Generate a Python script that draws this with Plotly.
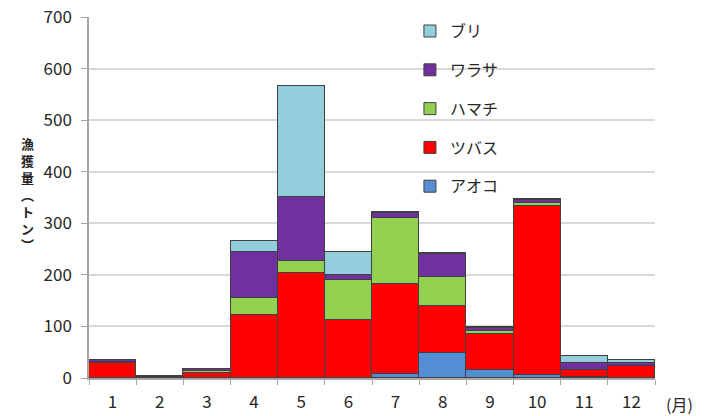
import plotly.graph_objects as go

months = ["1", "2", "3", "4", "5", "6", "7", "8", "9", "10", "11", "12"]
aoko = [0, 0, 0, 0, 0, 0, 7, 48, 15, 6, 1, 0]
tsubasu = [30, 2, 10, 123, 203, 112, 176, 91, 70, 327, 14, 23]
hamachi = [1, 1, 4, 32, 23, 79, 127, 57, 7, 7, 1, 1]
warasa = [3, 1, 3, 89, 125, 9, 9, 44, 4, 5, 14, 5]
buri = [1, 0, 1, 22, 216, 44, 2, 2, 3, 3, 13, 6]
y_ticks = [0, 100, 200, 300, 400, 500, 600, 700]

series = [
    ("アオコ", aoko, "#558ED5", 5),
    ("ツバス", tsubasu, "#FF0000", 4),
    ("ハマチ", hamachi, "#92D050", 3),
    ("ワラサ", warasa, "#7030A0", 2),
    ("ブリ", buri, "#92CDDC", 1),
]

FONT = "Noto Sans CJK JP"
TXT = "#262626"
fig = go.Figure()
for name, vals, color, rank in series:
    fig.add_trace(go.Bar(
        x=months, y=vals, name=name, legendgroup=name, legendrank=rank,
        marker=dict(color=color, line=dict(color="#404040", width=1)),
    ))

fig.update_layout(
    barmode="stack",
    bargap=0,
    width=706, height=416,
    margin=dict(l=89, r=51, t=17, b=38),
    plot_bgcolor="white", paper_bgcolor="white",
    font=dict(family=FONT, size=16, color=TXT),
    showlegend=True,
    legend=dict(
        x=0.567, y=1.008, xanchor="left", yanchor="top",
        traceorder="grouped", tracegroupgap=15,
        bgcolor="rgba(0,0,0,0)", font=dict(size=16, family=FONT, color=TXT),
        itemwidth=30,
    ),
    xaxis=dict(
        type="category", tickson="boundaries", ticks="outside", ticklen=5,
        tickcolor="#a6a6a6", showline=True, linecolor="#a6a6a6", linewidth=1.5,
        showgrid=False, tickfont=dict(size=17, family=FONT, color=TXT),
        ticklabelstandoff=8, automargin=False,
    ),
    yaxis=dict(
        range=[0, 700], tickvals=y_ticks, ticks="outside", ticklen=6,
        tickcolor="#a6a6a6", showline=True, linecolor="#a6a6a6", linewidth=1.5,
        showgrid=True, gridcolor="#d9d9d9", gridwidth=1.5,
        tickfont=dict(size=17, family=FONT, color=TXT),
        zeroline=False, ticklabelstandoff=6, automargin=False,
    ),
)

fig.add_annotation(
    text="<b>漁<br>獲<br>量<br>︵<br>ト<br>ン<br>︶</b>",
    xref="paper", yref="paper", x=-0.124, y=0.51, showarrow=False,
    font=dict(size=13, family=FONT, color=TXT), align="center",
)
fig.add_annotation(
    text="(月)", xref="paper", yref="paper", x=1.044, y=-0.072,
    xanchor="center", yanchor="middle", showarrow=False,
    font=dict(size=16, family=FONT, color=TXT),
)

fig.write_html("out.html")
